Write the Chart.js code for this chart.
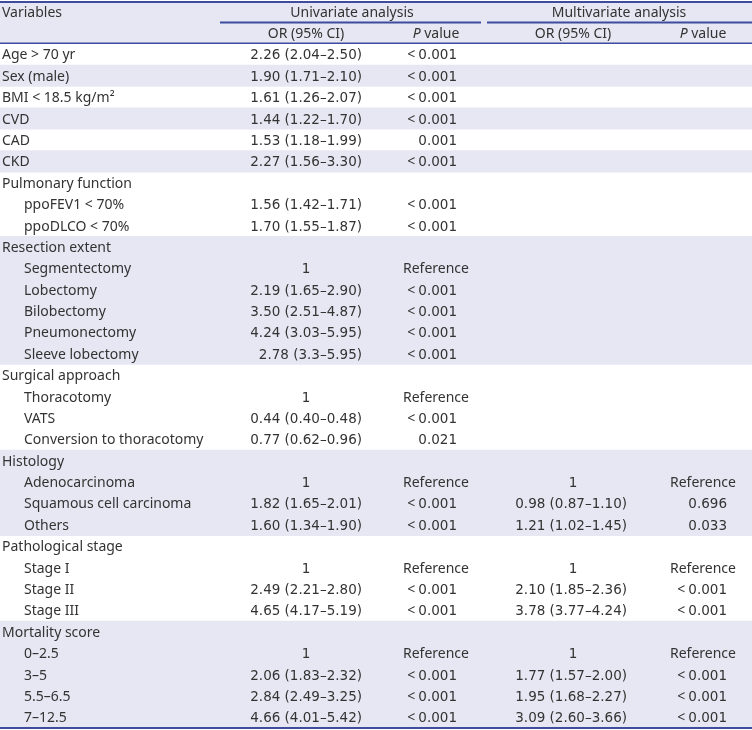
<!DOCTYPE html>
<html>
<head>
<meta charset="utf-8">
<title>Univariate and multivariate analysis</title>
<script src="https://cdn.jsdelivr.net/npm/chart.js@4.4.1/dist/chart.umd.min.js"></script>
<style>
  html, body { margin: 0; padding: 0; background: #fff; }
  #wrap { width: 752px; height: 730px; }
</style>
</head>
<body>
<div id="wrap"><canvas id="table" width="752" height="730"></canvas></div>
<script>
/*jslint browser:true, indent:2*/
/*globals Chart*/

var variables = [
  'Age > 70 yr', 'Sex (male)', 'BMI < 18.5 kg/m\u00b2', 'CVD', 'CAD', 'CKD',
  'Pulmonary function', 'ppoFEV1 < 70%', 'ppoDLCO < 70%',
  'Resection extent', 'Segmentectomy', 'Lobectomy', 'Bilobectomy', 'Pneumonectomy', 'Sleeve lobectomy',
  'Surgical approach', 'Thoracotomy', 'VATS', 'Conversion to thoracotomy',
  'Histology', 'Adenocarcinoma', 'Squamous cell carcinoma', 'Others',
  'Pathological stage', 'Stage I', 'Stage II', 'Stage III',
  'Mortality score', '0\u20132.5', '3\u20135', '5.5\u20136.5', '7\u201312.5'
];

// 0 = variable / group title, 1 = sub item
var levels = [
  0, 0, 0, 0, 0, 0,
  0, 1, 1,
  0, 1, 1, 1, 1, 1,
  0, 1, 1, 1,
  0, 1, 1, 1,
  0, 1, 1, 1,
  0, 1, 1, 1, 1
];

var uniOR = [
  '2.26 (2.04\u20132.50)', '1.90 (1.71\u20132.10)', '1.61 (1.26\u20132.07)', '1.44 (1.22\u20131.70)',
  '1.53 (1.18\u20131.99)', '2.27 (1.56\u20133.30)',
  '', '1.56 (1.42\u20131.71)', '1.70 (1.55\u20131.87)',
  '', '1', '2.19 (1.65\u20132.90)', '3.50 (2.51\u20134.87)', '4.24 (3.03\u20135.95)', '2.78 (3.3\u20135.95)',
  '', '1', '0.44 (0.40\u20130.48)', '0.77 (0.62\u20130.96)',
  '', '1', '1.82 (1.65\u20132.01)', '1.60 (1.34\u20131.90)',
  '', '1', '2.49 (2.21\u20132.80)', '4.65 (4.17\u20135.19)',
  '', '1', '2.06 (1.83\u20132.32)', '2.84 (2.49\u20133.25)', '4.66 (4.01\u20135.42)'
];

var uniP = [
  '< 0.001', '< 0.001', '< 0.001', '< 0.001', '0.001', '< 0.001',
  '', '< 0.001', '< 0.001',
  '', 'Reference', '< 0.001', '< 0.001', '< 0.001', '< 0.001',
  '', 'Reference', '< 0.001', '0.021',
  '', 'Reference', '< 0.001', '< 0.001',
  '', 'Reference', '< 0.001', '< 0.001',
  '', 'Reference', '< 0.001', '< 0.001', '< 0.001'
];

var multiOR = [
  '', '', '', '', '', '',
  '', '', '',
  '', '', '', '', '', '',
  '', '', '', '',
  '', '1', '0.98 (0.87\u20131.10)', '1.21 (1.02\u20131.45)',
  '', '1', '2.10 (1.85\u20132.36)', '3.78 (3.77\u20134.24)',
  '', '1', '1.77 (1.57\u20132.00)', '1.95 (1.68\u20132.27)', '3.09 (2.60\u20133.66)'
];

var multiP = [
  '', '', '', '', '', '',
  '', '', '',
  '', '', '', '', '', '',
  '', '', '', '',
  '', 'Reference', '0.696', '0.033',
  '', 'Reference', '< 0.001', '< 0.001',
  '', 'Reference', '< 0.001', '< 0.001', '< 0.001'
];

(function () {
  'use strict';

  var WIDTH = 752, HEADER_ROWS = 2, BASELINE = 5;
  var FONT = '14px "Noto Sans", "DejaVu Sans", sans-serif';
  var NUM_FONT = '13.5px "DejaVu Sans", sans-serif'; // wider digits, footed "1"
  var TEXT = '#333333', RULE = '#3d4c9e', SHADE = '#e7e7f3';

  // column anchors on the x scale: right edge for numbers, centre for "1"/"Reference"
  var cols = {
    variable: 2, indent: 24,
    uniOR: { right: 362, center: 306 },
    uniP: { right: 457, center: 436 },
    multiOR: { right: 627, center: 573 },
    multiP: { right: 727, center: 703 }
  };

  var rowLabels, shaded, group, textPlugin;

  rowLabels = ['header 1', 'header 2'].concat(variables);

  // groups alternate white / tinted, header is tinted
  group = -1;
  shaded = [true, true];
  levels.forEach(function (level) {
    if (level === 0) {
      group += 1;
    }
    shaded.push(group % 2 === 1);
  });

  textPlugin = {
    id: 'tableText',
    afterDatasetsDraw: function (chart) {
      var ctx = chart.ctx, xs = chart.scales.x, ys = chart.scales.y;
      var rowH = ys.getPixelForValue(1) - ys.getPixelForValue(0);
      var px = function (v) { return xs.getPixelForValue(v); };
      var py = function (row) { return ys.getPixelForValue(row) + BASELINE; };
      var edge = function (i) { return ys.getPixelForValue(i) - rowH / 2; };

      var rule = function (x0, x1, y, w) {
        ctx.save();
        ctx.strokeStyle = RULE;
        ctx.lineWidth = w;
        ctx.beginPath();
        ctx.moveTo(px(x0), y);
        ctx.lineTo(px(x1), y);
        ctx.stroke();
        ctx.restore();
      };

      var cell = function (txt, col, row) {
        var y = py(row), num, w;
        if (!txt) {
          return;
        }
        if (txt === 'Reference') {
          ctx.font = FONT;
          ctx.textAlign = 'center';
          ctx.fillText(txt, px(col.center), y);
        } else if (txt === '1') {
          ctx.font = NUM_FONT;
          ctx.textAlign = 'center';
          ctx.fillText(txt, px(col.center), y);
        } else {
          num = txt.replace('< ', '');
          ctx.font = NUM_FONT;
          ctx.textAlign = 'right';
          ctx.fillText(num, px(col.right), y);
          if (num !== txt) {
            w = ctx.measureText(num).width;
            ctx.font = FONT;
            ctx.fillText('<', px(col.right) - w - 3, y);
          }
        }
      };

      // "P value" with an italic P, centred on x
      var pHeader = function (x, row) {
        var y = py(row), wP, wRest, left;
        ctx.font = 'italic ' + FONT;
        wP = ctx.measureText('P').width;
        ctx.font = FONT;
        wRest = ctx.measureText(' value').width;
        left = px(x) - (wP + wRest) / 2;
        ctx.textAlign = 'left';
        ctx.font = 'italic ' + FONT;
        ctx.fillText('P', left, y);
        ctx.font = FONT;
        ctx.fillText(' value', left + wP, y);
      };

      ctx.save();
      ctx.fillStyle = TEXT;
      ctx.textBaseline = 'alphabetic';
      ctx.font = FONT;

      // header
      ctx.textAlign = 'left';
      ctx.fillText('Variables', px(cols.variable), py(0));
      ctx.textAlign = 'center';
      ctx.fillText('Univariate analysis', px(352), py(0));
      ctx.fillText('Multivariate analysis', px(619), py(0));
      ctx.fillText('OR (95% CI)', px(cols.uniOR.center), py(1));
      ctx.fillText('OR (95% CI)', px(cols.multiOR.center), py(1));
      pHeader(cols.uniP.center, 1);
      pHeader(cols.multiP.center, 1);

      // body
      variables.forEach(function (name, i) {
        var row = i + HEADER_ROWS;
        ctx.font = FONT;
        ctx.textAlign = 'left';
        ctx.fillText(name, px(levels[i] ? cols.indent : cols.variable), py(row));
        cell(uniOR[i], cols.uniOR, row);
        cell(uniP[i], cols.uniP, row);
        cell(multiOR[i], cols.multiOR, row);
        cell(multiP[i], cols.multiP, row);
      });
      ctx.restore();

      // rules
      rule(0, WIDTH, edge(0) + 1, 2);
      rule(220, 481, edge(1), 2);
      rule(487, WIDTH, edge(1), 2);
      rule(0, WIDTH, edge(HEADER_ROWS) - 0.5, 1.5);
      rule(0, WIDTH, edge(rowLabels.length), 2);
    }
  };

  new Chart(document.getElementById('table'), {
    type: 'bar',
    data: {
      labels: rowLabels,
      datasets: [{
        label: 'row shading',
        data: shaded.map(function (s) { return s ? [0, WIDTH] : null; }),
        backgroundColor: SHADE,
        borderWidth: 0,
        barPercentage: 1,
        categoryPercentage: 1
      }]
    },
    options: {
      indexAxis: 'y',
      responsive: false,
      animation: false,
      layout: { padding: { top: 1, bottom: 2, left: 0, right: 0 } },
      scales: {
        x: { type: 'linear', min: 0, max: WIDTH, display: false },
        y: { type: 'category', offset: true, display: false }
      },
      plugins: {
        legend: { display: false },
        tooltip: { enabled: false }
      }
    },
    plugins: [textPlugin]
  });
}());
</script>
</body>
</html>
